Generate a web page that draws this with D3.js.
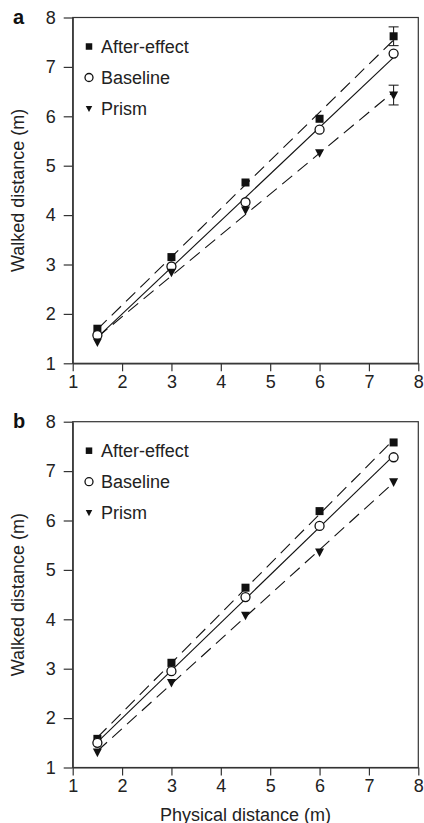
<!DOCTYPE html>
<html lang="en">
<head>
<meta charset="UTF-8">
<title>Walked vs physical distance</title>
<script src="https://d3js.org/d3.v7.min.js"></script>
<style>
    body { margin: 0; background: #fff; }
    svg { display: block; font-family: "Liberation Sans", Arial, sans-serif; }
    .axis text { font-size: 18px; fill: #222; }
    .axis path, .axis line { stroke: #333; stroke-width: 1.2; }
</style>
</head>
<body>
<div id="chart"></div>
<script>
// physical distances (m)
const distances = [1.5, 3, 4.5, 6, 7.5];

// panel a
const aAfter = [1.70, 3.15, 4.66, 5.95, 7.62];
const aBase  = [1.57, 2.96, 4.26, 5.73, 7.27];
const aPrism = [1.43, 2.84, 4.10, 5.26, 6.43];
const aAfterErr = [0, 0, 0, 0, 0.19];
const aPrismErr = [0, 0, 0, 0, 0.20];

// panel b
const bAfter = [1.58, 3.12, 4.64, 6.19, 7.58];
const bBase  = [1.50, 2.95, 4.45, 5.89, 7.28];
const bPrism = [1.31, 2.72, 4.08, 5.36, 6.78];

const ticks = [1, 2, 3, 4, 5, 6, 7, 8];
const legendNames = ["After-effect", "Baseline", "Prism"];

const width = 424, height = 823;
const left = 72.7, plotW = 345.6, plotH = 345.8;

const svg = d3.select("#chart").append("svg")
    .attr("width", width)
    .attr("height", height);

const x = d3.scaleLinear().domain([1, 8]).range([left, left + plotW]);

function fit(xs, ys) {
    const mx = d3.mean(xs), my = d3.mean(ys);
    const b = d3.sum(xs, (v, i) => (v - mx) * (ys[i] - my)) / d3.sum(xs, v => (v - mx) ** 2);
    return [b, my - b * mx];
}

function marker(g, type, cx, cy, s) {
    if (type === "square") {
        g.append("rect").attr("x", cx - s / 2).attr("y", cy - s / 2)
            .attr("width", s).attr("height", s).attr("fill", "#111");
    } else if (type === "circle") {
        g.append("circle").attr("cx", cx).attr("cy", cy).attr("r", s / 2)
            .attr("fill", "#fff").attr("stroke", "#111").attr("stroke-width", 1.3);
    } else {
        g.append("path")
            .attr("d", `M${cx - s / 2},${cy - s * 0.4}L${cx + s / 2},${cy - s * 0.4}L${cx},${cy + s * 0.55}Z`)
            .attr("fill", "#111");
    }
}

function drawPanel(top, label, series, showXTitle) {
    const y = d3.scaleLinear().domain([1, 8]).range([top + plotH, top]);
    const g = svg.append("g");

    // axes
    g.append("g").attr("class", "axis")
        .attr("transform", `translate(0,${top + plotH})`)
        .call(d3.axisBottom(x).tickValues(ticks).tickFormat(d3.format("d"))
            .tickSize(8).tickSizeOuter(0).tickPadding(4));
    g.append("g").attr("class", "axis")
        .attr("transform", `translate(${left},0)`)
        .call(d3.axisLeft(y).tickValues(ticks).tickFormat(d3.format("d"))
            .tickSize(9).tickSizeOuter(0).tickPadding(8));

    // frame
    g.append("rect")
        .attr("x", left).attr("y", top).attr("width", plotW).attr("height", plotH)
        .attr("fill", "none").attr("stroke", "#333").attr("stroke-width", 1.2);

    // regression lines
    series.forEach(s => {
        const [b, a] = fit(distances, s.values);
        g.append("line")
            .attr("x1", x(1.5)).attr("y1", y(a + b * 1.5))
            .attr("x2", x(7.5)).attr("y2", y(a + b * 7.5))
            .attr("stroke", "#111").attr("stroke-width", 1.1)
            .attr("stroke-dasharray", s.dashed ? "13,7" : null);
    });

    // error bars
    series.forEach(s => {
        if (!s.err) return;
        s.err.forEach((e, i) => {
            if (!e) return;
            const cx = x(distances[i]);
            const y0 = y(s.values[i] - e), y1 = y(s.values[i] + e);
            g.append("line").attr("x1", cx).attr("x2", cx).attr("y1", y0).attr("y2", y1)
                .attr("stroke", "#111").attr("stroke-width", 1);
            [y0, y1].forEach(yy => g.append("line")
                .attr("x1", cx - 5).attr("x2", cx + 5).attr("y1", yy).attr("y2", yy)
                .attr("stroke", "#111").attr("stroke-width", 1));
        });
    });

    // markers
    series.forEach(s => {
        s.values.forEach((v, i) => marker(g, s.type, x(distances[i]), y(v), s.size));
    });

    // legend
    series.forEach((s, i) => {
        const ly = top + 29 + i * 31;
        marker(g, s.type, 89, ly, s.type === "circle" ? 8 : 6.5);
        g.append("text").attr("x", 101).attr("y", ly).attr("dy", "0.35em")
            .attr("font-size", 18).attr("fill", "#222").text(legendNames[i]);
    });

    // panel label
    g.append("text").attr("x", 13).attr("y", top + 6)
        .attr("font-size", 20).attr("font-weight", "bold").attr("fill", "#111").text(label);

    // y title
    g.append("text")
        .attr("transform", `translate(24,${top + plotH / 2}) rotate(-90)`)
        .attr("text-anchor", "middle").attr("font-size", 18).attr("fill", "#222")
        .text("Walked distance (m)");

    if (showXTitle) {
        g.append("text").attr("x", left + plotW / 2).attr("y", top + plotH + 53)
            .attr("text-anchor", "middle").attr("font-size", 18).attr("fill", "#222")
            .text("Physical distance (m)");
    }
}

drawPanel(17.5, "a", [
    { values: aAfter, type: "square", size: 8, dashed: true, err: aAfterErr },
    { values: aBase, type: "circle", size: 9, dashed: false },
    { values: aPrism, type: "tri", size: 9, dashed: true, err: aPrismErr }
], false);

drawPanel(421.7, "b", [
    { values: bAfter, type: "square", size: 8, dashed: true },
    { values: bBase, type: "circle", size: 9, dashed: false },
    { values: bPrism, type: "tri", size: 9, dashed: true }
], true);
</script>
</body>
</html>
